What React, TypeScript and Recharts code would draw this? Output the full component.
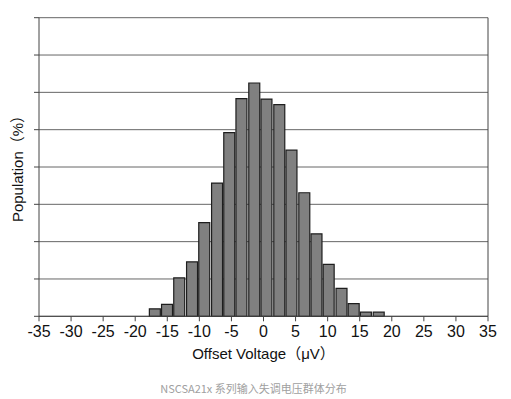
import { BarChart, Bar, XAxis, YAxis, CartesianGrid, ReferenceLine, Label } from 'recharts'

// bin centres (µV) and heights (in gridline units, the chart has no y labels)
const binCenters = [-17, -15.1, -13.2, -11.2, -9.3, -7.3, -5.4, -3.5, -1.5, 0.4, 2.4, 4.3, 6.3, 8.2, 10.1, 12.1, 14, 15.9, 17.9]
const population = [0.2, 0.32, 1.03, 1.46, 2.51, 3.57, 4.92, 5.83, 6.25, 5.82, 5.67, 4.45, 3.31, 2.21, 1.39, 0.75, 0.34, 0.11, 0.11]
const xTicks = [-35, -30, -25, -20, -15, -10, -5, 0, 5, 10, 15, 20, 25, 30, 35]
const yTicks = [0, 1, 2, 3, 4, 5, 6, 7, 8]

const data = binCenters.map((x, i) => ({ x, population: population[i] }))

const font = '"Liberation Sans", Arial, "Noto Sans CJK SC", sans-serif'

const NoTick = () => <g />

export default function App() {
  return (
    <div style={{ position: 'absolute', left: 0, top: 0, width: 511, height: 399, background: '#fff' }}>
      <BarChart
        width={511}
        height={372}
        data={data}
        margin={{ top: 17.7, right: 23, left: 0, bottom: 11.7 }}
        barSize={12.5}
      >
        <CartesianGrid vertical={false} stroke="#666" />
        <XAxis
          dataKey="x"
          type="number"
          domain={[-35, 35]}
          ticks={xTicks}
          interval={0}
          height={44}
          stroke="#444"
          tickSize={5}
          tickMargin={4}
          tick={{ fill: '#111', fontSize: 16, fontFamily: font }}
        >
          <Label
            value="Offset Voltage（μV）"
            position="insideBottom"
            offset={1}
            style={{ fill: '#111', fontSize: 15, fontFamily: font }}
          />
        </XAxis>
        <YAxis
          type="number"
          domain={[0, 8]}
          ticks={yTicks}
          interval={0}
          width={39}
          stroke="#444"
          tickSize={5}
          tick={<NoTick />}
        >
          <Label
            value="Population（%）"
            angle={-90}
            position="center"
            dx={-1.5}
            dy={-2}
            style={{ fill: '#111', fontSize: 15, fontFamily: font, textAnchor: 'middle' }}
          />
        </YAxis>
        <ReferenceLine x={35} stroke="#444" />
        <Bar dataKey="population" fill="#808080" stroke="#1e1e1e" strokeWidth={1.2} isAnimationActive={false} />
      </BarChart>
      <div
        style={{
          position: 'absolute',
          left: 0,
          width: 507,
          top: 380,
          textAlign: 'center',
          fontSize: 11,
          color: '#a0a0a0',
          fontFamily: '"Noto Sans CJK SC", "Noto Sans", sans-serif',
        }}
      >
        NSCSA21x 系列输入失调电压群体分布
      </div>
    </div>
  )
}
